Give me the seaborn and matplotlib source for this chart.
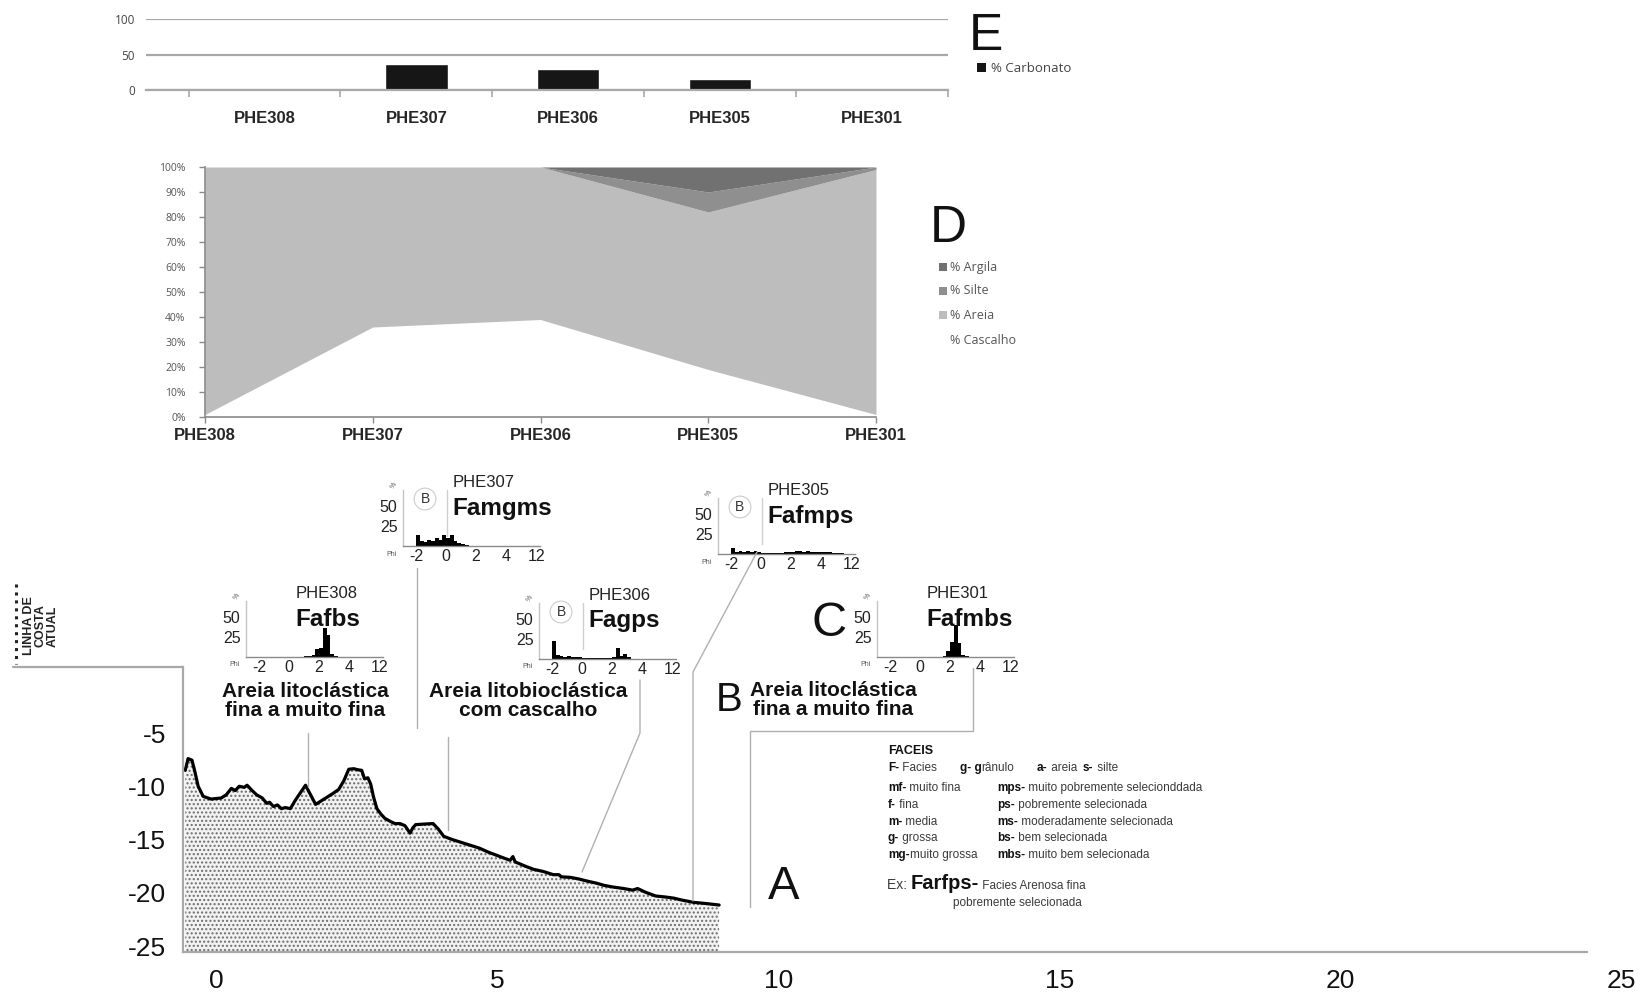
import matplotlib
matplotlib.use("Agg")
import matplotlib.pyplot as plt
import numpy as np
import pandas as pd
import seaborn as sns
from matplotlib.lines import Line2D
from matplotlib.patches import Rectangle
from matplotlib import font_manager

# ---------------------------------------------------------------- data
stations = ["PHE308", "PHE307", "PHE306", "PHE305", "PHE301"]

# E - carbonate content (%)
carbonato = [0, 36, 29, 15, 0]

# D - grain size fractions (%)
cascalho = [1, 36, 39, 19, 1]
areia = [99, 64, 61, 63, 98]
silte = [0, 0, 0, 8, 1]
argila = [0, 0, 0, 10, 0]

# A - bathymetric profile (distance in km, depth in m)
profile_km = [-0.55, -0.50, -0.43, -0.38, -0.32, -0.23, -0.09, 0.09, 0.18, 0.27,
              0.34, 0.41, 0.50, 0.55, 0.64, 0.72, 0.82, 0.90, 0.95, 1.02,
              1.09, 1.16, 1.23, 1.32, 1.41, 1.50, 1.59, 1.68, 1.77, 1.86,
              1.95, 2.07, 2.18, 2.27, 2.36, 2.45, 2.52, 2.59, 2.64, 2.70,
              2.75, 2.80, 2.86, 2.93, 3.00, 3.10, 3.18, 3.27, 3.36, 3.45,
              3.50, 3.55, 3.70, 3.86, 3.95, 4.05, 4.20, 4.32, 4.50, 4.68,
              4.85, 5.00, 5.15, 5.23, 5.28, 5.32, 5.50, 5.65, 5.82, 6.00,
              6.10, 6.14, 6.30, 6.45, 6.60, 6.77, 6.90, 7.05, 7.25, 7.41,
              7.50, 7.64, 7.82, 8.00, 8.14, 8.30, 8.50, 8.70, 8.95]
profile_depth = [-8.5, -7.4, -7.55, -8.6, -10.0, -10.95, -11.2, -11.1, -10.8, -10.2,
                 -10.4, -10.0, -10.1, -9.9, -10.4, -10.8, -11.1, -11.6, -11.5, -11.9,
                 -11.75, -12.1, -12.0, -12.1, -11.3, -10.6, -9.9, -10.8, -11.7, -11.4,
                 -11.1, -10.7, -10.3, -9.5, -8.4, -8.35, -8.45, -8.5, -9.3, -9.2,
                 -9.8, -11.0, -12.1, -12.6, -13.0, -13.3, -13.5, -13.5, -13.7, -14.4,
                 -13.9, -13.6, -13.55, -13.5, -14.0, -14.7, -15.0, -15.2, -15.5, -15.8,
                 -16.2, -16.5, -16.8, -16.95, -16.6, -17.1, -17.5, -17.8, -18.0, -18.3,
                 -18.3, -18.5, -18.55, -18.7, -18.9, -19.1, -19.3, -19.45, -19.6, -19.75,
                 -19.6, -19.95, -20.3, -20.4, -20.5, -20.7, -20.9, -21.0, -21.15]

# B / C - grain size histograms (phi classes, % weight)
phi_classes = [-2.0, -1.75, -1.5, -1.25, -1.0, -0.75, -0.5, -0.25,
               0.0, 0.25, 0.5, 0.75, 1.0, 1.25, 1.5, 1.75,
               2.0, 2.25, 2.5, 2.75, 3.0, 3.25, 3.5, 3.75,
               4.0, 4.25, 4.5, 4.75, 5.0, 5.25]
phi_308 = [0, 0, 0, 0, 0, 0, 0, 0,
           0.5, 0.5, 0.5, 0.5, 1, 1, 2, 10,
           11, 36, 27, 4, 1, 0, 0, 0,
           0, 0, 0, 0, 0, 0]
phi_307 = [14, 6, 5, 7, 6, 10, 8, 14,
           10, 14, 6, 4, 3, 1, 0, 0,
           0, 0, 0, 0, 0, 0, 0, 0,
           0, 0, 0, 0, 0, 0]
phi_306 = [22, 5, 4, 3, 4, 3, 3, 2,
           1, 1, 1, 1, 1, 1, 1, 1,
           2, 14, 4, 6, 2, 0, 0, 0,
           0, 0, 0, 0, 0, 0]
phi_305 = [8, 3, 4, 3, 4, 3, 4, 2,
           1, 1, 1, 1, 1, 1, 2, 2,
           3, 4, 4, 3, 4, 3, 2, 3,
           2, 2, 2, 1, 1, 1]
phi_301 = [0, 0, 0, 0, 0, 0, 0, 0,
           0, 0, 0, 0, 0, 0, 1, 8,
           19, 40, 18, 3, 1, 0, 0, 0,
           0, 0, 0, 0, 0, 0]
phi_ticks = [-2, 0, 2, 4, 6]
phi_tick_labels = ["-2", "0", "2", "4", "12"]

# ---------------------------------------------------------------- style
sns.set_theme(style="white")
plt.rcParams["font.family"] = ["Liberation Sans", "DejaVu Sans"]
plt.rcParams["axes.unicode_minus"] = False
plt.rcParams["hatch.linewidth"] = 1.0

installed = {f.name for f in font_manager.fontManager.ttflist}
SOFT = "Open Sans" if "Open Sans" in installed else "DejaVu Sans"

W, H = 1638, 992
fig = plt.figure(figsize=(W / 100, H / 100), dpi=100)
fig.patch.set_facecolor("white")
renderer = fig.canvas.get_renderer()


def fx(x):
    return x / W


def fy(y):
    return 1 - y / H


def px_axes(left, top, right, bottom):
    return fig.add_axes([left / W, 1 - bottom / H, (right - left) / W, (bottom - top) / H])


def ftext(x, y, s, **kw):
    return fig.text(fx(x), fy(y), s, **kw)


def fline(points, color="#b0b0b0", lw=1.0, **kw):
    xs = [fx(p[0]) for p in points]
    ys = [fy(p[1]) for p in points]
    fig.add_artist(Line2D(xs, ys, transform=fig.transFigure, color=color, lw=lw, **kw))


def rich(x, y, parts, size=8.5):
    """Write a run of text pieces on one baseline; each piece is (text, bold[, size])."""
    for part in parts:
        s, bold = part[0], part[1]
        sz = part[2] if len(part) > 2 else size
        t = ftext(x, y, s, fontsize=sz, fontweight="bold" if bold else "normal",
                  color="#111111" if bold else "#3a3a3a", ha="left", va="baseline")
        x += t.get_window_extent(renderer).width


# ---------------------------------------------------------------- E: carbonate
df_carb = pd.DataFrame({"estacao": stations, "carbonato": carbonato})
axE = px_axes(146, 19, 948, 90)
sns.barplot(data=df_carb, x="estacao", y="carbonato", color="#161616",
            saturation=1, width=0.41, ax=axE)
axE.set_xlim(-0.78, 4.5)
axE.set_ylim(0, 100)
axE.set_yticks([0, 50, 100])
axE.yaxis.grid(True, color="#a8a8a8", lw=1.6)
axE.set_axisbelow(True)
for s in ["top", "right", "left"]:
    axE.spines[s].set_visible(False)
axE.spines["bottom"].set_color("#a8a8a8")
axE.spines["bottom"].set_linewidth(1.6)
axE.set_xlabel("")
axE.set_ylabel("")
axE.set_xticks(np.arange(-0.5, 5, 1), minor=True)
axE.tick_params(axis="x", which="minor", length=5, width=1.2, color="#a8a8a8", bottom=True)
axE.tick_params(axis="x", which="major", length=0, pad=15)
axE.tick_params(axis="y", length=0, pad=8)
for lbl in axE.get_xticklabels():
    lbl.set_fontweight("bold")
    lbl.set_fontsize(12)
for lbl in axE.get_yticklabels():
    lbl.set_family(SOFT)
    lbl.set_fontsize(8.5)
    lbl.set_color("#444444")

ftext(986, 37, "E", fontsize=37, ha="center", va="center", color="#111111")
fig.add_artist(Rectangle((fx(977), fy(72)), 9 / W, 9 / H, transform=fig.transFigure,
                         facecolor="#161616", edgecolor="none"))
ftext(991, 68, "% Carbonato", fontsize=9.5, family=SOFT, color="#444444", va="center")

# ---------------------------------------------------------------- D: grain size fractions
axD = px_axes(205, 167, 876, 417)
pos = list(range(len(stations)))
fill_colors = ["white", "#bdbdbd", "#8f8f8f", "#717171"]
axD.stackplot(pos, cascalho, areia, silte, argila, colors=fill_colors, linewidth=0)
axD.set_xlim(0, 4)
axD.set_ylim(0, 100)
axD.set_xticks(pos)
axD.set_xticklabels(stations, fontweight="bold", fontsize=12)
axD.set_yticks(list(range(0, 101, 10)))
axD.set_yticklabels([f"{v}%" for v in range(0, 101, 10)])
for s in ["top", "right"]:
    axD.spines[s].set_visible(False)
for s in ["left", "bottom"]:
    axD.spines[s].set_color("#8a8a8a")
    axD.spines[s].set_linewidth(1.2)
axD.tick_params(axis="y", length=4, width=1, color="#8a8a8a", left=True, pad=10)
axD.tick_params(axis="x", length=4, width=1, color="#8a8a8a", bottom=True, pad=4)
for lbl in axD.get_yticklabels():
    lbl.set_family(SOFT)
    lbl.set_fontsize(7.5)
    lbl.set_color("#555555")

ftext(948, 228, "D", fontsize=37, ha="center", va="center", color="#111111")
legend_names = ["% Argila", "% Silte", "% Areia", "% Cascalho"]
legend_cols = ["#717171", "#8f8f8f", "#bdbdbd", "white"]
legend_y = [267, 291, 315, 340]
for name, col, yy in zip(legend_names, legend_cols, legend_y):
    fig.add_artist(Rectangle((fx(939), fy(yy + 4)), 8 / W, 8 / H, transform=fig.transFigure,
                             facecolor=col, edgecolor="none"))
    ftext(950, yy, name, fontsize=9, family=SOFT, color="#555555", va="center")

# ---------------------------------------------------------------- A: profile
axA = px_axes(183, 667, 1638, 952)
axA.fill_between(profile_km, profile_depth, -25.56, facecolor="#f2f2f2",
                 edgecolor="#6e6e6e", hatch="....", linewidth=0)
sns.lineplot(x=profile_km, y=profile_depth, sort=False, estimator=None,
             color="black", lw=2.3, ax=axA)
axA.set_xlim(-0.59, 25.3)
axA.set_ylim(-25.56, 1.2)
axA.set_xticks([0, 5, 10, 15, 20, 25])
axA.set_yticks([-5, -10, -15, -20, -25])
axA.tick_params(axis="both", length=0, labelsize=19, colors="#111111")
axA.tick_params(axis="x", pad=12)
axA.tick_params(axis="y", pad=12)
for s in ["top", "right"]:
    axA.spines[s].set_visible(False)
for s in ["left", "bottom"]:
    axA.spines[s].set_color("#a9a9a9")
    axA.spines[s].set_linewidth(1.6)
axA.spines["bottom"].set_bounds(-0.59, 24.4)
axA.patch.set_alpha(0)

fline([(13, 667), (183, 667)], color="#a9a9a9", lw=1.6)
fline([(16, 584), (16, 664)], color="#222222", lw=2.2, linestyle=(0, (1, 1.6)))
ftext(41, 626, "LINHA DE\nCOSTA\nATUAL", rotation=90, fontsize=9, fontweight="bold",
      ha="center", va="center", multialignment="center", linespacing=0.95,
      color="#222222")

# leader lines from the samples to the profile
fline([(308, 733), (308, 787)])
fline([(417, 568), (417, 728)])
fline([(448, 737), (448, 830)])
fline([(640, 680), (640, 733), (582, 872)])
fline([(757, 552), (693, 672), (693, 901)])
fline([(973, 668), (973, 731), (750, 731), (750, 907)])

# ---------------------------------------------------------------- B/C: histograms
edges = phi_classes + [phi_classes[-1] + 0.25]
insets = [
    ("PHE308", phi_308, "Fafbs", 246, 657, False),
    ("PHE307", phi_307, "Famgms", 403, 546, True),
    ("PHE306", phi_306, "Fagps", 539, 659, True),
    ("PHE305", phi_305, "Fafmps", 718, 554, True),
    ("PHE301", phi_301, "Fafmbs", 877, 657, False),
]
for name, vals, code, S, B, circled in insets:
    ax = px_axes(S, B - 56, S + 137, B)
    sns.histplot(x=phi_classes, weights=vals, bins=edges, color="black",
                 alpha=1, linewidth=0, ax=ax)
    ax.set_xlim(-2.87, 6.26)
    ax.set_ylim(0, 70)
    ax.set_xticks(phi_ticks)
    ax.set_xticklabels(phi_tick_labels)
    ax.set_yticks([25, 50])
    ax.set_yticklabels(["25", "50"])
    ax.set_xlabel("")
    ax.set_ylabel("")
    ax.tick_params(axis="both", length=0, labelsize=11.5, colors="#222222")
    ax.tick_params(axis="x", pad=2)
    ax.tick_params(axis="y", pad=4)
    for s in ["top", "right"]:
        ax.spines[s].set_visible(False)
    ax.spines["left"].set_color("#c4c4c4")
    ax.spines["bottom"].set_color("#8a8a8a")
    ax.spines["left"].set_linewidth(1.0)
    ax.spines["bottom"].set_linewidth(1.0)
    ax.patch.set_alpha(0)

    ftext(S - 11, B + 8, "Phi", fontsize=5, ha="center", va="center", color="#555555")
    ftext(S - 9, B - 60, "%", fontsize=5, ha="center", va="center", color="#555555", rotation=60)
    ftext(S + 50, B - 63, name, fontsize=12, ha="left", va="center", color="#222222")
    ftext(S + 49, B - 38, code, fontsize=17.5, fontweight="bold", ha="left", va="center",
          color="#111111")
    if circled:
        fline([(S + 44, B - 56), (S + 44, B - 10)], color="#cfcfcf", lw=1.0)
        ftext(S + 22, B - 47, "B", fontsize=10, ha="center", va="center", color="#333333",
              bbox=dict(boxstyle="circle,pad=0.28", fc="white", ec="#cccccc", lw=0.8))

# ---------------------------------------------------------------- facies descriptions
ftext(305, 701, "Areia litoclástica\nfina a muito fina", fontsize=15, fontweight="bold",
      ha="center", va="center", linespacing=1.05, color="#111111")
ftext(528, 701, "Areia litobioclástica\ncom cascalho", fontsize=15, fontweight="bold",
      ha="center", va="center", linespacing=1.05, color="#111111")
ftext(833, 700, "Areia litoclástica\nfina a muito fina", fontsize=15, fontweight="bold",
      ha="center", va="center", linespacing=1.05, color="#111111")

ftext(729, 700, "B", fontsize=29, ha="center", va="center", color="#111111")
ftext(829, 624, "C", fontsize=35, ha="center", va="center", color="#111111")
ftext(784, 887, "A", fontsize=34, ha="center", va="center", color="#111111")

# ---------------------------------------------------------------- facies key
rich(888, 754, [("FACEIS", True)], size=9)
rich(888, 771, [("F-", True), (" Facies", False)])
rich(960, 771, [("g- g", True), ("rânulo", False)])
rich(1037, 771, [("a-", True), (" areia", False)])
rich(1083, 771, [("s-", True), (" silte", False)])
key_left = [[("mf-", True), (" muito fina", False)],
            [("f-", True), (" fina", False)],
            [("m-", True), (" media", False)],
            [("g-", True), (" grossa", False)],
            [("mg-", True), ("muito grossa", False)]]
key_right = [[("mps-", True), (" muito pobremente selecionddada", False)],
             [("ps-", True), (" pobremente selecionada", False)],
             [("ms-", True), (" moderadamente selecionada", False)],
             [("bs-", True), (" bem selecionada", False)],
             [("mbs-", True), (" muito bem selecionada", False)]]
key_rows = [791, 808, 825, 841, 858]
for left_parts, right_parts, yy in zip(key_left, key_right, key_rows):
    rich(888, yy, left_parts)
    rich(997, yy, right_parts)
rich(887, 889, [("Ex: ", False, 10), ("Farfps-", True, 14.5), (" Facies Arenosa fina", False, 8.5)])
rich(953, 906, [("pobremente selecionada", False)])

fig.savefig("out.png", dpi=100, facecolor="white")
